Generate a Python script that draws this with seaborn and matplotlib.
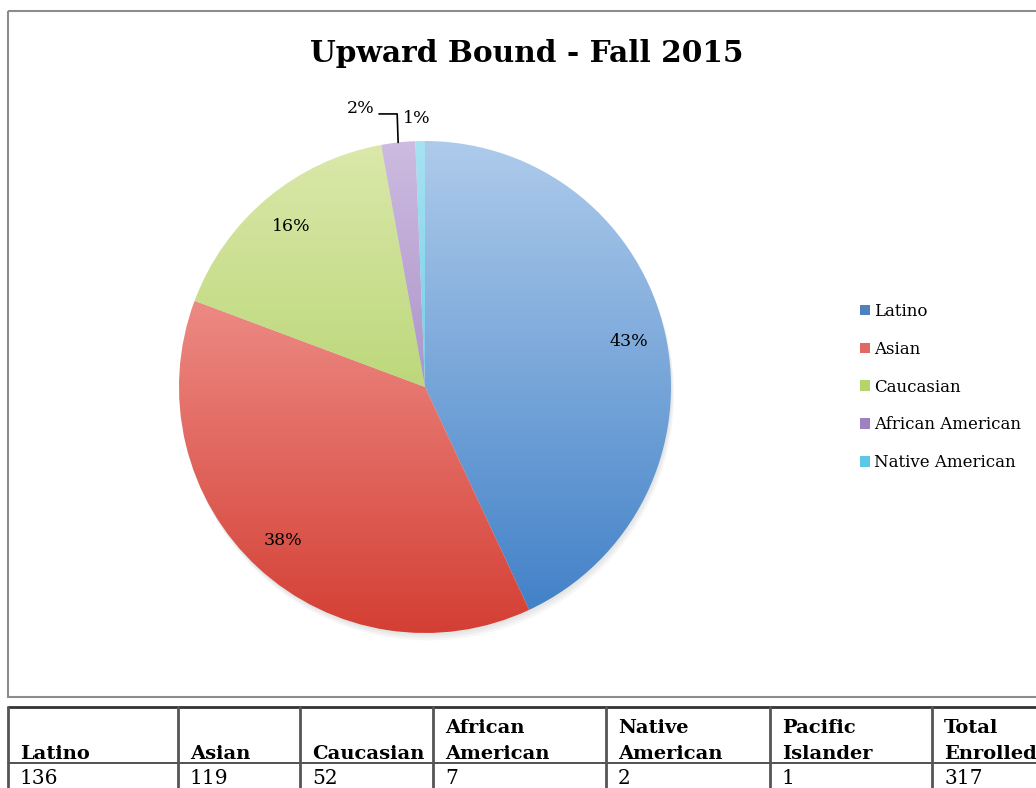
import numpy as np
import matplotlib
matplotlib.use("Agg")
import matplotlib.pyplot as plt
import seaborn as sns
from matplotlib.colors import LinearSegmentedColormap
from matplotlib.patches import Patch, Rectangle

# data
groups = ["Latino", "Asian", "Caucasian", "African American", "Native American"]
counts = [136, 119, 52, 7, 2]
pct_labels = ["43%", "38%", "16%", "2%", "1%"]

table_headers = ["Latino", "Asian", "Caucasian", "African\nAmerican",
                 "Native\nAmerican", "Pacific\nIslander", "Total\nEnrolled"]
table_values = ["136", "119", "52", "7", "2", "1", "317"]

# gradient colours per slice (top light -> bottom dark)
light = ["#aecbeb", "#f8aeaa", "#dbe8ab", "#cdbbe0", "#a8e2f2"]
dark = ["#3d7ec6", "#d43f34", "#9ec84a", "#8d6fb3", "#3cbbe0"]
mid = ["#4f81bd", "#e06a63", "#b5d56a", "#9c82c0", "#5cc8e6"]

sns.set_theme(style="white")
plt.rcParams["font.family"] = ["DejaVu Serif"]
plt.rcParams["text.color"] = "black"

W, H = 1036, 788
fig = plt.figure(figsize=(W / 100, H / 100), dpi=100)

# background axes in pixel coordinates
bg = fig.add_axes([0, 0, 1, 1])
bg.set_xlim(0, W)
bg.set_ylim(H, 0)
bg.axis("off")

# chart frame
bg.add_patch(Rectangle((8, 11), 1100, 686, fill=False, edgecolor="#8c8c8c", lw=1.5))

bg.text(527, 53, "Upward Bound - Fall 2015", ha="center", va="center",
        fontsize=21.3, fontweight="bold", color="black")

# pie axes
cx, cy, r = 425, 387, 246
ax = fig.add_axes([(cx - r) / W, (H - cy - r) / H, 2 * r / W, 2 * r / H])
ax.axis("off")

# soft shadow
for k in range(3):
    ax.add_patch(plt.Circle((0.004 * (k + 1), -0.01 * (k + 1)), 1.0,
                            color="#555555", alpha=0.05, lw=0, zorder=0,
                            clip_on=False))

wedges, _ = ax.pie(counts, startangle=90, counterclock=False, radius=1.0,
                   wedgeprops=dict(linewidth=0))
grad = np.linspace(0, 1, 256).reshape(-1, 1)
for w, lc, dc in zip(wedges, light, dark):
    w.set_facecolor("none")
    cmap = LinearSegmentedColormap.from_list("g", [lc, dc])
    im = ax.imshow(grad, cmap=cmap, extent=(-1, 1, -1, 1), origin="upper",
                   aspect="auto", zorder=1)
    im.set_clip_path(w)
ax.set_xlim(-1, 1)
ax.set_ylim(-1, 1)

lab_fs = 12.5
for i, (w, lab) in enumerate(zip(wedges, pct_labels)):
    ang = np.deg2rad((w.theta1 + w.theta2) / 2)
    ex, ey = np.cos(ang), np.sin(ang)
    if i < 3:
        ax.text(0.85 * ex, 0.85 * ey, lab, ha="center", va="center",
                fontsize=lab_fs, zorder=3)
    elif i == 3:
        ax.plot([ex, ex - 0.004, -0.187], [ey, 1.11, 1.11], color="black",
                lw=1.2, zorder=3, clip_on=False)
        ax.text(-0.205, 1.134, lab, ha="right", va="center",
                fontsize=lab_fs, zorder=3, clip_on=False)
    else:
        ax.text(1.09 * ex - 0.01, 1.09 * ey, lab, ha="center", va="center",
                fontsize=lab_fs, zorder=3, clip_on=False)

handles = [Patch(facecolor=c, edgecolor="none") for c in mid]
fig.legend(handles, groups, loc="center left",
           bbox_to_anchor=(852 / W, 1 - 387 / H), frameon=False,
           fontsize=12, handlelength=0.6, handleheight=0.6,
           handletextpad=0.25, labelspacing=1.25, borderpad=0)

# table
col_x = [8, 178, 300, 433, 606, 770, 932]
bg.plot([8, W], [707, 707], color="#333333", lw=2)
bg.plot([8, W], [763, 763], color="#333333", lw=1.2)
for x in col_x:
    bg.plot([x, x], [707, H], color="#555555", lw=2)
for x, hdr, val in zip(col_x, table_headers, table_values):
    bg.text(x + 12, 759, hdr, ha="left", va="baseline", fontsize=14,
            fontweight="bold", linespacing=1.6)
    bg.text(x + 12, 769, val, ha="left", va="top", fontsize=14.5)

fig.savefig("out.png", dpi=100)
